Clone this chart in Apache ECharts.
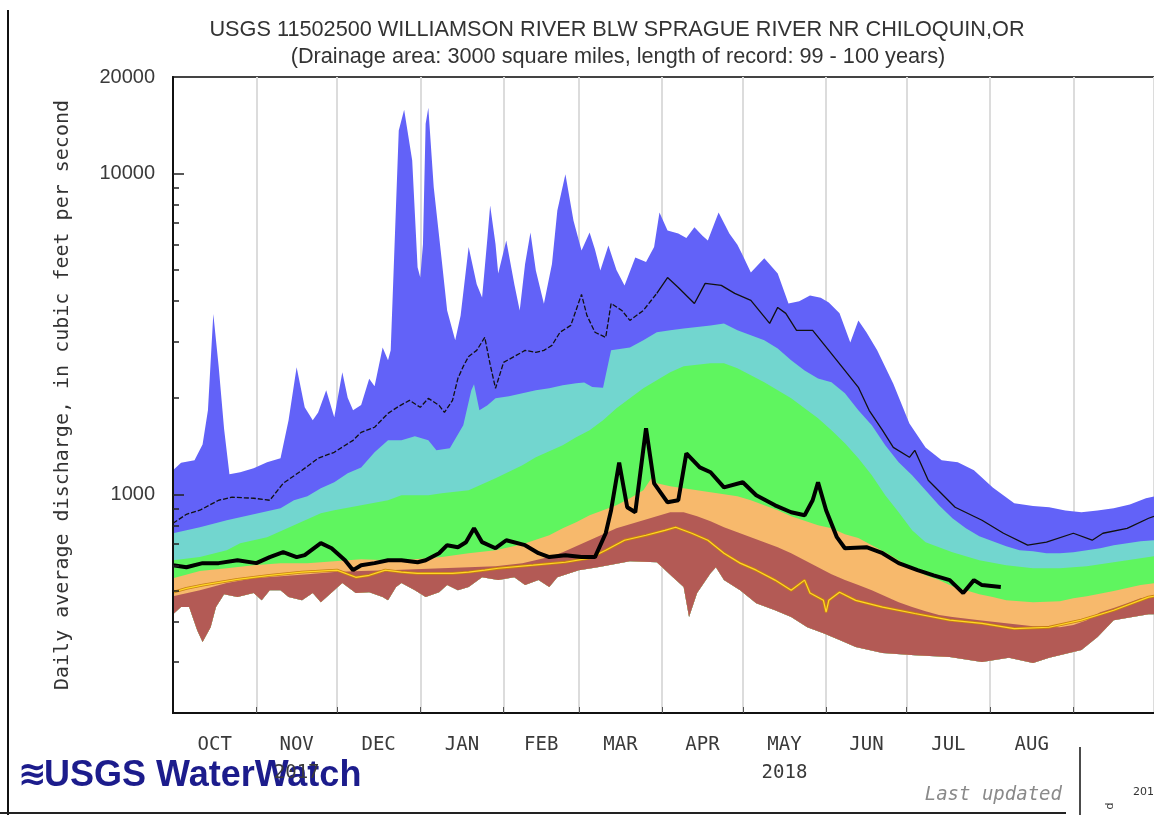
<!DOCTYPE html>
<html>
<head>
<meta charset="utf-8">
<script src="https://cdn.jsdelivr.net/npm/echarts@6/dist/echarts.min.js"></script>
<style>
  html, body { margin: 0; padding: 0; background: #fff; }
  #chart { width: 1154px; height: 815px; }
</style>
</head>
<body>
<div id="chart"></div>
<script>
// Daily discharge, water year 2018 (day 0 = 2017-10-01), cubic feet per second.

const monthStarts = ['2017-10-01', '2017-11-01', '2017-12-01', '2018-01-01', '2018-02-01', '2018-03-01',
  '2018-04-01', '2018-05-01', '2018-06-01', '2018-07-01', '2018-08-01', '2018-09-01', '2018-10-01'];
const monthNames = ['OCT', 'NOV', 'DEC', 'JAN', 'FEB', 'MAR', 'APR', 'MAY', 'JUN', 'JUL', 'AUG'];
const yearUnderMonth = { NOV: '2017', MAY: '2018' };
const yLabelValues = [1000, 10000, 20000];
const yMajorTicks = [1000, 10000];
const yMinorTicks = [300, 400, 500, 600, 700, 800, 900, 2000, 3000, 4000, 5000, 6000, 7000, 8000, 9000];

// Maximum of record
const maxFlow = [[0,1188],[3,1255],[8,1276],[11,1430],[13,1827],[15,3650],[17,2500],[19,1600],[21,1155],[25,1171],[30,1205],[35,1258],[40,1295],[43,1701],[46,2490],[49,1867],[52,1701],[54,1800],[57,2109],[60,1740],[63,2400],[65,2000],[67,1827],[70,1900],[73,2290],[75,2170],[78,2870],[80,2616],[81,2810],[84,13610],[86,15800],[89,10980],[91,5100],[92,4740],[93,6020],[94,14290],[95,16050],[97,9080],[100,5360],[102,3743],[105,3019],[107,3600],[110,5900],[113,4520],[115,4110],[117,6320],[118,7950],[120,6020],[121,4880],[124,6185],[127,4520],[129,3743],[131,5220],[133,6550],[135,4985],[138,3930],[141,5220],[143,7670],[146,9950],[149,7140],[152,5755],[155,6550],[157,5800],[159,4985],[162,5970],[165,5000],[168,4480],[172,5475],[176,5300],[179,5900],[181,7560],[184,6640],[188,6500],[191,6300],[194,6800],[197,6400],[199,6185],[203,7560],[207,6500],[210,6000],[212,5555],[215,4915],[220,5440],[225,4880],[229,3935],[233,4000],[237,4170],[241,4100],[244,3965],[248,3665],[252,2975],[255,3485],[258,3200],[262,2810],[268,2210],[274,1663],[280,1400],[286,1276],[292,1258],[298,1188],[305,1050],[313,937],[320,920],[326,911],[332,890],[338,879],[344,890],[350,905],[356,930],[362,972],[365,985]];

// 90th percentile
const p90Flow = [[0,756],[5,772],[10,789],[20,830],[30,866],[40,905],[45,958],[50,986],[55,1044],[60,1090],[65,1163],[70,1213],[75,1352],[80,1473],[85,1473],[90,1516],[95,1473],[98,1371],[103,1391],[108,1641],[111,2109],[112,2202],[114,1827],[117,1894],[120,1991],[125,2020],[130,2064],[135,2109],[140,2140],[145,2186],[150,2218],[153,2230],[156,2160],[160,2150],[163,2810],[170,2870],[175,3019],[180,3200],[185,3244],[190,3290],[200,3362],[205,3410],[210,3244],[215,3130],[220,3019],[225,2850],[230,2616],[235,2434],[240,2298],[245,2234],[250,2064],[255,1827],[260,1641],[265,1421],[270,1258],[275,1146],[280,1029],[285,924],[290,842],[295,783],[300,740],[305,714],[310,689],[315,669],[320,664],[325,655],[330,655],[335,660],[340,669],[345,679],[350,694],[355,704],[360,714],[365,719]];

// 75th percentile
const p75Flow = [[0,623],[10,637],[20,669],[25,704],[35,735],[45,801],[55,873],[60,892],[70,924],[80,958],[85,993],[95,993],[100,1007],[110,1029],[115,1074],[120,1122],[130,1231],[135,1304],[145,1421],[150,1505],[155,1583],[160,1701],[165,1853],[170,1991],[175,2140],[180,2266],[185,2400],[190,2505],[200,2560],[205,2560],[210,2470],[215,2349],[220,2234],[225,2109],[230,1991],[235,1853],[240,1725],[245,1583],[250,1442],[255,1295],[260,1146],[265,993],[270,879],[275,772],[280,709],[290,660],[300,623],[310,601],[320,588],[330,588],[340,597],[350,614],[360,632],[365,641]];

// 25th percentile
const p25Flow = [[0,547],[10,576],[20,588],[30,601],[40,610],[50,610],[60,618],[70,627],[80,623],[90,627],[100,637],[110,655],[120,669],[130,699],[140,745],[145,783],[150,818],[155,860],[160,892],[165,924],[170,972],[175,1029],[178,1122],[180,1082],[185,1059],[190,1044],[195,1029],[200,1014],[210,986],[215,958],[220,924],[225,892],[230,854],[240,801],[245,783],[250,750],[255,730],[260,694],[265,660],[270,623],[275,588],[280,559],[285,540],[290,517],[295,502],[300,488],[305,478],[310,467],[320,461],[330,464],[335,474],[340,481],[350,499],[360,521],[365,528]];

// 10th percentile
const p10Flow = [[0,481],[10,502],[20,529],[30,547],[40,555],[50,563],[60,572],[70,576],[80,580],[90,584],[100,588],[110,592],[120,597],[130,610],[140,637],[145,660],[150,689],[155,719],[160,750],[165,783],[170,807],[175,830],[180,854],[185,879],[190,879],[195,854],[200,824],[205,789],[210,761],[215,735],[220,709],[225,684],[230,655],[235,623],[240,592],[245,563],[250,540],[255,521],[260,502],[265,481],[270,461],[275,445],[280,432],[285,420],[290,414],[300,405],[310,396],[320,388],[330,385],[335,391],[340,405],[345,429],[350,442],[355,457],[360,474],[365,481]];

// Minimum of record
const minFlow = [[0,423],[3,445],[6,445],[9,377],[11,346],[14,385],[16,445],[19,488],[24,478],[30,492],[33,467],[36,502],[40,502],[43,478],[48,467],[52,492],[55,461],[60,502],[63,529],[68,492],[73,495],[78,478],[80,467],[83,514],[85,529],[90,502],[94,478],[99,495],[102,521],[106,502],[110,514],[115,551],[121,540],[127,551],[131,521],[136,540],[140,514],[143,551],[151,580],[158,592],[170,618],[180,614],[186,551],[190,514],[192,414],[195,492],[200,567],[202,592],[205,540],[211,502],[217,457],[224,435],[230,414],[236,385],[242,369],[248,351],[254,334],[264,320],[276,315],[289,311],[301,300],[311,309],[320,298],[326,309],[338,327],[344,359],[350,405],[357,414],[363,423],[365,423]];

// Mean daily flow
const meanFlow = [[0,812],[5,866],[10,892],[17,958],[22,979],[30,972],[36,958],[41,1082],[48,1188],[54,1295],[60,1352],[67,1473],[70,1560],[75,1618],[80,1788],[84,1880],[88,1963],[92,1867],[95,1991],[99,1894],[101,1800],[104,1963],[106,2298],[108,2505],[110,2690],[113,2810],[116,3085],[118,2540],[120,2140],[123,2578],[127,2690],[131,2810],[135,2770],[138,2810],[141,2913],[144,3200],[148,3362],[152,4200],[154,3612],[157,3200],[161,3085],[163,3935],[167,3743],[170,3485],[175,3743],[180,4230],[184,4740],[188,4415],[194,3935],[198,4545],[204,4480],[209,4230],[215,4021],[222,3410],[225,3825],[228,3665],[232,3244],[238,3244],[244,2810],[249,2490],[255,2155],[259,1827],[264,1583],[268,1400],[274,1304],[276,1371],[281,1106],[291,911],[301,830],[309,756],[318,694],[325,709],[335,756],[342,719],[346,756],[355,783],[363,842],[365,854]];

// Median-year reference trace (gold)
const goldFlow = [[0,495],[5,509],[11,521],[24,543],[36,559],[48,572],[61,580],[68,551],[73,559],[79,580],[85,572],[91,567],[97,567],[104,567],[110,572],[116,580],[121,588],[134,601],[146,614],[155,632],[161,669],[168,719],[176,745],[183,772],[187,789],[193,756],[199,719],[205,655],[211,610],[217,580],[224,540],[230,502],[235,540],[237,492],[242,467],[243,429],[244,467],[248,495],[254,467],[264,445],[276,425],[289,405],[301,396],[313,381],[326,385],[338,405],[350,435],[363,478],[365,481]];

// Current water year
const currentFlow = [[0,601],[5,592],[11,610],[17,610],[24,623],[31,610],[36,637],[41,660],[46,637],[49,646],[55,704],[59,679],[64,623],[67,580],[70,601],[75,610],[80,623],[85,623],[91,614],[94,623],[99,655],[102,694],[106,684],[109,709],[112,784],[115,709],[120,679],[124,719],[131,694],[136,655],[140,637],[146,646],[152,637],[157,637],[161,756],[163,892],[166,1256],[169,911],[172,879],[174,1188],[176,1606],[179,1082],[184,944],[188,958],[191,1341],[196,1213],[200,1171],[205,1051],[212,1090],[217,993],[224,924],[230,879],[235,860],[238,958],[240,1090],[243,892],[247,735],[250,679],[258,684],[264,655],[270,610],[277,580],[283,559],[289,540],[294,492],[298,540],[301,521],[308,514]];

// ---------------------------------------------------------------------------

const waterYearStart = Date.parse('2017-10-01');
const toDay = s => (Date.parse(s) - waterYearStart) / 86400000;
const boundaryDays = monthStarts.map(toDay);
const labelDays = monthNames.map((m, i) => (boundaryDays[i] + boundaryDays[i + 1]) / 2);
const lastDay = boundaryDays[boundaryDays.length - 1];

function monthLabel(value) {
  let best = 0;
  labelDays.forEach((d, i) => { if (Math.abs(d - value) < Math.abs(labelDays[best] - value)) best = i; });
  const name = monthNames[best];
  return yearUnderMonth[name] ? name + '\n' + yearUnderMonth[name] : name;
}

// Percentile band: filled from its upper bound down to the record minimum.
function band(name, upper, color) {
  return {
    type: 'custom', name: name, silent: true,
    data: [[0, 1000]],
    renderItem: function (params, api) {
      const top = upper.map(p => api.coord(p));
      const bottom = minFlow.slice().reverse().map(p => api.coord(p));
      return { type: 'polygon', shape: { points: top.concat(bottom) }, style: { fill: color } };
    }
  };
}

function line(name, data, color, width, dash) {
  return {
    type: 'line', name: name, data: data, showSymbol: false, silent: true,
    lineStyle: { color: color, width: width, type: dash || 'solid' }
  };
}

const meanSplit = 180;
const logAxisBase = {
  type: 'log', logBase: 10, min: 208, max: 20000, z: 5,
  splitLine: { show: false }, minorTick: { show: false }
};

const chart = echarts.init(document.getElementById('chart'), null, { renderer: 'canvas' });
chart.setOption({
  animation: false,
  backgroundColor: '#ffffff',
  grid: {
    left: 173, top: 77, width: 986, height: 636,
    show: true, borderColor: '#444', borderWidth: 2, backgroundColor: 'transparent'
  },
  xAxis: {
    type: 'value', min: 0, max: lastDay,
    axisLine: { show: true, onZero: false, lineStyle: { color: '#111', width: 2 } },
    axisTick: { show: true, inside: true, length: 6, customValues: boundaryDays, lineStyle: { color: '#555', width: 1 } },
    splitLine: { show: true, lineStyle: { color: '#dcdcdc', width: 2 } },
    axisLabel: {
      customValues: labelDays, formatter: monthLabel, margin: 18,
      fontFamily: 'DejaVu Sans Mono', fontSize: 19, lineHeight: 28, color: '#3a3a3a'
    }
  },
  yAxis: [
    Object.assign({}, logAxisBase, {
      name: 'Daily average discharge, in cubic feet per second',
      nameLocation: 'middle', nameRotate: 90, nameGap: 100,
      nameTextStyle: { fontFamily: 'DejaVu Sans Mono', fontSize: 20, color: '#333' },
      axisLine: { show: true, lineStyle: { color: '#111', width: 2 } },
      axisTick: { show: true, inside: true, length: 11, customValues: yMajorTicks, lineStyle: { color: '#222', width: 1.5 } },
      axisLabel: {
        customValues: yLabelValues, margin: 18, formatter: v => String(Math.round(v)),
        fontFamily: 'Liberation Sans', fontSize: 20, color: '#3a3a3a'
      }
    }),
    Object.assign({}, logAxisBase, {
      position: 'left',
      axisLine: { show: false },
      axisTick: { show: true, inside: true, length: 6, customValues: yMinorTicks, lineStyle: { color: '#222', width: 1.5 } },
      axisLabel: { show: false }
    })
  ],
  series: [
    band('Max - 90th percentile', maxFlow, '#6262f8'),
    band('90th - 75th percentile', p90Flow, '#72d6cf'),
    band('75th - 25th percentile', p75Flow, '#5ff55f'),
    band('25th - 10th percentile', p25Flow, '#f7b96c'),
    band('10th percentile - Min', p10Flow, '#b35a55'),
    line('Gold trace edge', goldFlow, '#c98012', 2.8),
    line('Gold trace', goldFlow, '#ffd726', 1.2),
    line('Mean', meanFlow.filter(p => p[0] <= meanSplit), '#111', 1.3, [5, 2]),
    line('Mean', meanFlow.filter(p => p[0] >= meanSplit), '#111', 1.3),
    line('Current', currentFlow, '#000', 4)
  ],
  graphic: [
    { type: 'text', x: 617, y: 30, style: { text: 'USGS 11502500 WILLIAMSON RIVER BLW SPRAGUE RIVER NR CHILOQUIN,OR', font: '21.7px "Liberation Sans"', fill: '#333', align: 'center', verticalAlign: 'middle' } },
    { type: 'text', x: 618, y: 57, style: { text: '(Drainage area: 3000 square miles, length of record: 99 - 100 years)', font: '21.7px "Liberation Sans"', fill: '#333', align: 'center', verticalAlign: 'middle' } },
    { type: 'line', shape: { x1: 8, y1: 10, x2: 8, y2: 815 }, style: { stroke: '#111', lineWidth: 2 } },
    { type: 'line', shape: { x1: 0, y1: 813, x2: 1066, y2: 813 }, style: { stroke: '#222', lineWidth: 2 } },
    { type: 'line', shape: { x1: 1080, y1: 747, x2: 1080, y2: 815 }, style: { stroke: '#111', lineWidth: 1.5 } },
    { type: 'text', x: 1062, y: 795, style: { text: 'Last updated', font: 'italic 19px "DejaVu Sans Mono"', fill: '#8a8a8a', align: 'right', verticalAlign: 'middle' } },
    { type: 'text', x: 1133, y: 792, style: { text: '2018', font: '11px "DejaVu Sans"', fill: '#333', verticalAlign: 'middle' } },
    { type: 'text', x: 1110, y: 806, rotation: Math.PI / 2, style: { text: 'd', font: '11px "DejaVu Sans"', fill: '#333', align: 'center', verticalAlign: 'middle' } },
    { type: 'text', x: 18, y: 776, style: { text: '\u224b', font: 'bold 34px "DejaVu Sans"', fill: '#1c1c8c', verticalAlign: 'middle' } },
    { type: 'text', x: 44, y: 776, style: { text: 'USGS WaterWatch', font: 'bold 36px "Liberation Sans"', fill: '#1c1c8c', verticalAlign: 'middle' } }
  ]
});
</script>
</body>
</html>
